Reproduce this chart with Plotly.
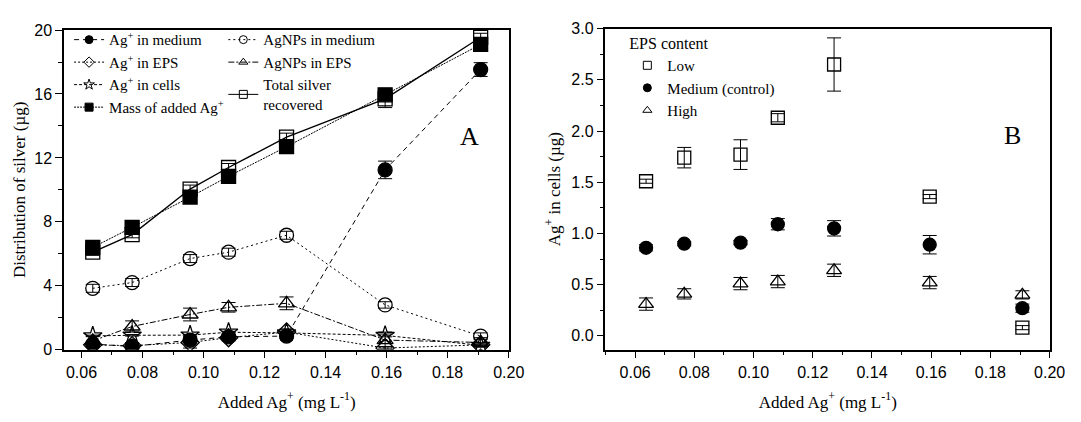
import plotly.graph_objects as go

# ---------------- data ----------------
x_added = [0.0637, 0.0766, 0.0956, 0.1082, 0.1272, 0.1595, 0.1908]

# Panel A: distribution of silver (ug)
ag_medium = [0.35, 0.2, 0.6, 0.8, 0.85, 11.25, 17.53]
ag_medium_err = [0.1, 0.1, 0.1, 0.1, 0.15, 0.55, 0.43]
agnp_medium = [3.84, 4.2, 5.7, 6.1, 7.16, 2.8, 0.85]
agnp_medium_err = [0.25, 0.25, 0.25, 0.25, 0.25, 0.2, 0.2]
ag_eps = [0.3, 0.25, 0.45, 0.75, 1.1, 0.1, 0.3]
ag_eps_err = [0.15, 0.2, 0.35, 0.2, 0.2, 0.1, 0.1]
agnp_eps = [0.55, 1.45, 2.2, 2.65, 2.9, 0.6, 0.45]
agnp_eps_err = [0.3, 0.35, 0.4, 0.3, 0.4, 0.5, 0.3]
ag_cells = [0.86, 0.9, 0.91, 1.09, 1.05, 0.89, 0.27]
ag_cells_err = [0.05, 0.05, 0.05, 0.06, 0.08, 0.09, 0.04]
total_rec = [6.1, 7.2, 10.05, 11.4, 13.3, 15.7, 19.55]
total_err = [0.2, 0.2, 0.25, 0.25, 0.25, 0.55, 0.25]
mass_added = [6.4, 7.65, 9.55, 10.85, 12.7, 15.95, 19.1]

# Panel B: Ag+ in cells (ug) by EPS content
low = [1.51, 1.74, 1.77, 2.13, 2.65, 1.36, 0.08]
low_err = [0.02, 0.10, 0.145, 0.04, 0.26, 0.02, 0.02]
medium = [0.86, 0.90, 0.91, 1.09, 1.05, 0.89, 0.27]
medium_err = [0.03, 0.02, 0.02, 0.055, 0.075, 0.09, 0.04]
high = [0.31, 0.41, 0.51, 0.53, 0.64, 0.52, 0.40]
high_err = [0.06, 0.05, 0.06, 0.06, 0.06, 0.06, 0.04]

x_ticks = [0.06, 0.08, 0.10, 0.12, 0.14, 0.16, 0.18, 0.20]

SERIF = "Liberation Serif, Times New Roman, serif"
SANS = "Liberation Sans, Arial, sans-serif"


def err(arr):
    return dict(type="data", array=arr, visible=True, color="black",
                thickness=1, width=7)


fig = go.Figure()

seriesA = [
    # name, y, err, symbol, dash, legend, width
    ("Ag<sup>+</sup> in medium", ag_medium, ag_medium_err, "circle", "5px,4px", "legend", 1),
    ("Ag<sup>+</sup> in EPS", ag_eps, ag_eps_err, "diamond-open", "2px,2px", "legend", 1),
    ("Ag<sup>+</sup> in cells", ag_cells, ag_cells_err, "star-open", "3px,2px", "legend", 1),
    ("Mass of added Ag<sup>+</sup>", mass_added, None, "square", "2px,1px", "legend", 1),
    ("AgNPs in medium", agnp_medium, agnp_medium_err, "circle-open", "2px,3px", "legend2", 1),
    ("AgNPs in EPS", agnp_eps, agnp_eps_err, "triangle-up-open", "6px,2px,2px,2px", "legend2", 1),
    ("Total silver<br>recovered", total_rec, total_err, "square-open", "solid", "legend2", 1.4),
]

for name, y, e, sym, dash, leg, w in seriesA:
    fig.add_trace(go.Scatter(
        x=x_added, y=y, name=name, mode="lines+markers", showlegend=False,
        line=dict(color="black", width=w, dash=dash),
        marker=dict(symbol=sym, size=14, color="black",
                    line=dict(color="black", width=1.3)),
        error_y=err(e) if e is not None else None,
        xaxis="x", yaxis="y",
    ))
# legend entries (small symbols as in the reference)
for name, y, e, sym, dash, leg, w in seriesA:
    fig.add_trace(go.Scatter(
        x=[None], y=[None], name=name, mode="lines+markers",
        line=dict(color="black", width=1, dash=dash),
        marker=dict(symbol=sym, size=8, color="black",
                    line=dict(color="black", width=1)),
        xaxis="x", yaxis="y", legend=leg,
    ))

seriesB = [
    ("Low", low, low_err, "square-open"),
    ("Medium (control)", medium, medium_err, "circle"),
    ("High", high, high_err, "triangle-up-open"),
]
for name, y, e, sym in seriesB:
    fig.add_trace(go.Scatter(
        x=x_added, y=y, name=name, mode="markers", showlegend=False,
        marker=dict(symbol=sym, size=13, color="black",
                    line=dict(color="black", width=1.3)),
        error_y=err(e), xaxis="x2", yaxis="y2",
    ))
for name, y, e, sym in seriesB:
    fig.add_trace(go.Scatter(
        x=[None], y=[None], name=name, mode="markers",
        marker=dict(symbol=sym, size=8, color="black",
                    line=dict(color="black", width=1)),
        xaxis="x2", yaxis="y2", legend="legend3",
    ))

axis_common = dict(
    showline=True, linecolor="black", linewidth=1.5, mirror=True,
    ticks="outside", ticklen=7, tickwidth=1.2, tickcolor="black",
    showgrid=False, zeroline=False,
    tickfont=dict(family=SANS, size=16, color="black"),
)
minor_common = dict(ticks="outside", ticklen=4, tickwidth=1.2,
                    tickcolor="black", showgrid=False)

xtitle = dict(text="Added Ag<sup>+</sup> (mg L<sup>-1</sup>)",
              font=dict(family=SERIF, size=17, color="black"), standoff=16)

fig.update_layout(
    width=1081, height=422,
    margin=dict(l=0, r=0, t=0, b=0),
    paper_bgcolor="white", plot_bgcolor="white",
    xaxis=dict(axis_common, domain=[0.0601, 0.4778], range=[0.0543, 0.2002],
               tickmode="array", tickvals=x_ticks, tickformat=".2f",
               minor=dict(minor_common, dtick=0.01, tick0=0),
               title=xtitle, anchor="y"),
    yaxis=dict(axis_common, domain=[0.1564, 0.9455], range=[0, 20],
               dtick=4, tick0=0,
               minor=dict(minor_common, dtick=2, tick0=0),
               title=dict(text="Distribution of silver (µg)",
                          font=dict(family=SERIF, size=17, color="black"),
                          standoff=4),
               anchor="x"),
    xaxis2=dict(axis_common, domain=[0.568, 0.9852], range=[0.05, 0.2002],
                tickmode="array", tickvals=x_ticks, tickformat=".2f",
                minor=dict(minor_common, dtick=0.01, tick0=0),
                title=xtitle, anchor="y2"),
    yaxis2=dict(axis_common, domain=[0.1564, 0.949], range=[-0.135, 3.0],
                dtick=0.5, tick0=0, tickformat=".1f",
                minor=dict(minor_common, dtick=0.25, tick0=0),
                title=dict(text="Ag<sup>+</sup> in cells (µg)",
                           font=dict(family=SERIF, size=17, color="black"),
                           standoff=6),
                anchor="x2"),
    legend=dict(x=0.0648, y=0.962, xanchor="left", yanchor="top",
                bgcolor="rgba(0,0,0,0)", itemsizing="trace",
                font=dict(family=SERIF, size=15, color="black")),
    legend2=dict(x=0.2095, y=0.962, xanchor="left", yanchor="top",
                 bgcolor="rgba(0,0,0,0)", itemsizing="trace",
                 font=dict(family=SERIF, size=15, color="black")),
    legend3=dict(x=0.5885, y=0.95, xanchor="left", yanchor="top",
                 bgcolor="rgba(0,0,0,0)", itemsizing="trace",
                 title=dict(text="EPS content",
                            font=dict(family=SERIF, size=16, color="black")),
                 font=dict(family=SERIF, size=15, color="black")),
    annotations=[
        dict(text="A", x=0.1873, y=13.35, xref="x", yref="y",
             showarrow=False, font=dict(family=SERIF, size=26, color="black")),
        dict(text="B", x=0.1875, y=1.96, xref="x2", yref="y2",
             showarrow=False, font=dict(family=SERIF, size=26, color="black")),
    ],
)

fig.write_html("out.html")
